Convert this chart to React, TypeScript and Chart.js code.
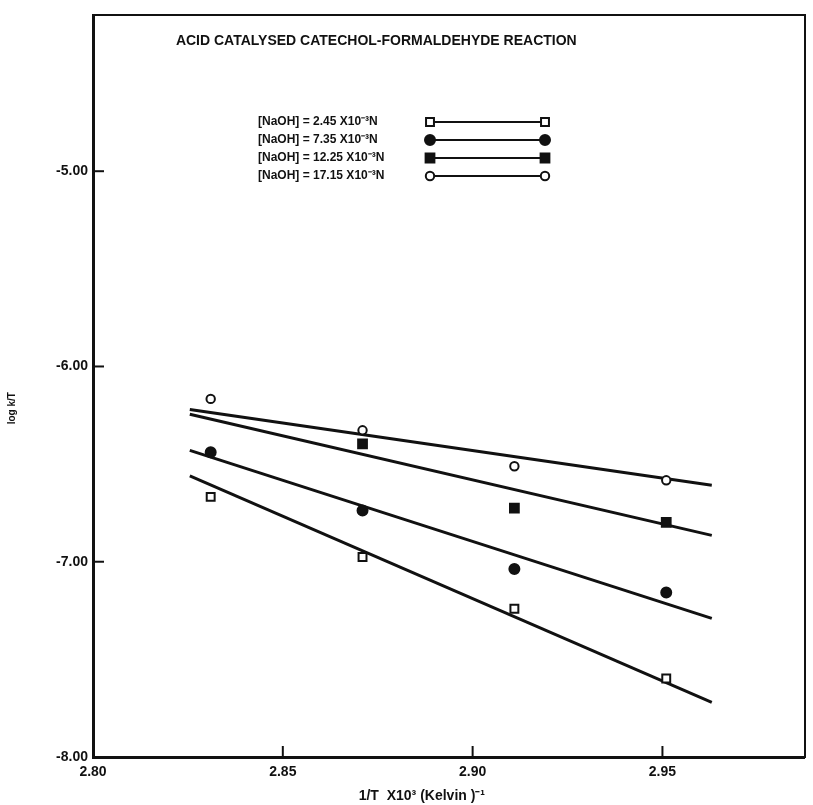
import React, { useEffect, useRef } from "react";
import { Chart, registerables } from "chart.js";

Chart.register(...registerables);

// 1/T x 10^3 positions of the measurements
const xValues = [2.831, 2.871, 2.911, 2.951];

// log k/T for each NaOH concentration
const naoh245 = [-6.668, -6.976, -7.241, -7.598];
const naoh735 = [-6.439, -6.737, -7.037, -7.157];
const naoh1225 = [null, -6.396, -6.725, -6.798];
const naoh1715 = [-6.166, -6.327, -6.511, -6.583];

// drawn straight-line fits (end points)
const fitX = [2.8255, 2.963];
const fit245 = [-6.56, -7.72];
const fit735 = [-6.43, -7.29];
const fit1225 = [-6.245, -6.865];
const fit1715 = [-6.22, -6.608];

const xTicks = [2.8, 2.85, 2.9, 2.95];
const yTicks = [-8, -7, -6, -5];

const legendLabels = [
  "[NaOH] = 2.45 X10\u207B\u00B3N",
  "[NaOH] = 7.35 X10\u207B\u00B3N",
  "[NaOH] = 12.25 X10\u207B\u00B3N",
  "[NaOH] = 17.15 X10\u207B\u00B3N",
];

const titleText = "ACID CATALYSED CATECHOL-FORMALDEHYDE REACTION";
const xTitle = "1/T  X10\u00B3 (Kelvin )\u207B\u00B9";
const yTitle = "log k/T";

const FONT = "'Liberation Sans', Arial, sans-serif";
const INK = "#111";

type MarkerStyle = { style: "rect" | "circle"; radius: number; fill: string };
const markers: MarkerStyle[] = [
  { style: "rect", radius: 5.6, fill: "#fff" },
  { style: "circle", radius: 5, fill: INK },
  { style: "rect", radius: 6.2, fill: INK },
  { style: "circle", radius: 4.2, fill: "#fff" },
];
const seriesValues = [naoh245, naoh735, naoh1225, naoh1715];
const fitValues = [fit245, fit735, fit1225, fit1715];

function drawMarker(ctx: CanvasRenderingContext2D, m: MarkerStyle, x: number, y: number) {
  ctx.save();
  ctx.beginPath();
  if (m.style === "rect") {
    const s = m.radius * Math.SQRT1_2;
    ctx.rect(x - s, y - s, 2 * s, 2 * s);
  } else {
    ctx.arc(x, y, m.radius, 0, Math.PI * 2);
  }
  ctx.fillStyle = m.fill;
  ctx.fill();
  ctx.lineWidth = 2;
  ctx.strokeStyle = INK;
  ctx.stroke();
  ctx.restore();
}

const decorPlugin = {
  id: "decor",
  afterDatasetsDraw(chart: any) {
    const { ctx, chartArea } = chart;
    const xs = chart.scales.x;
    const ys = chart.scales.y;
    ctx.save();
    ctx.strokeStyle = INK;
    ctx.lineWidth = 2;
    // inward tick marks
    xTicks.forEach((v) => {
      if (v === xTicks[0]) return;
      const px = xs.getPixelForValue(v);
      ctx.beginPath();
      ctx.moveTo(px, chartArea.bottom);
      ctx.lineTo(px, chartArea.bottom - 11);
      ctx.stroke();
    });
    yTicks.forEach((v) => {
      if (v === yTicks[0]) return;
      const py = ys.getPixelForValue(v);
      ctx.beginPath();
      ctx.moveTo(chartArea.left, py);
      ctx.lineTo(chartArea.left + 11, py);
      ctx.stroke();
    });

    const w = chartArea.right - chartArea.left;
    const h = chartArea.bottom - chartArea.top;
    // title
    ctx.fillStyle = INK;
    ctx.font = `bold 14px ${FONT}`;
    ctx.textAlign = "center";
    ctx.textBaseline = "middle";
    ctx.fillText(titleText, chartArea.left + w * 0.398, chartArea.top + 26);

    // legend
    ctx.font = `bold 12px ${FONT}`;
    ctx.textAlign = "left";
    legendLabels.forEach((label, i) => {
      const y = chartArea.top + 107 + i * 18;
      ctx.fillStyle = INK;
      ctx.fillText(label, chartArea.left + 165, y);
      const x1 = chartArea.left + 337;
      const x2 = chartArea.left + 452;
      ctx.beginPath();
      ctx.lineWidth = 2;
      ctx.moveTo(x1, y);
      ctx.lineTo(x2, y);
      ctx.stroke();
      drawMarker(ctx, markers[i], x1, y);
      drawMarker(ctx, markers[i], x2, y);
    });

    // x axis title
    ctx.font = `bold 14px ${FONT}`;
    ctx.textAlign = "center";
    ctx.fillStyle = INK;
    ctx.fillText(xTitle, chartArea.left + w * 0.462, chartArea.bottom + 39);

    // y axis title
    ctx.save();
    ctx.translate(12, chartArea.top + h * 0.53);
    ctx.rotate(-Math.PI / 2);
    ctx.font = `bold 10px ${FONT}`;
    ctx.textAlign = "center";
    ctx.fillText(yTitle, 0, 0);
    ctx.restore();

    ctx.restore();
  },
};

export default function App() {
  const canvasRef = useRef<HTMLCanvasElement | null>(null);

  useEffect(() => {
    const canvas = canvasRef.current;
    if (!canvas) return;

    const fitSets = fitValues.map((vals, i) => ({
      label: "fit " + legendLabels[i],
      data: fitX.map((x, j) => ({ x, y: vals[j] })),
      showLine: true,
      borderColor: INK,
      borderWidth: 3,
      pointRadius: 0,
      fill: false,
      order: 2,
    }));

    const pointSets = seriesValues.map((vals, i) => ({
      label: legendLabels[i],
      data: xValues
        .map((x, j) => ({ x, y: vals[j] }))
        .filter((p) => p.y !== null),
      showLine: false,
      pointStyle: markers[i].style,
      pointRadius: markers[i].radius,
      pointBackgroundColor: markers[i].fill,
      pointBorderColor: INK,
      pointBorderWidth: 2,
      order: 1,
    }));

    const tickFont = { family: FONT, size: 14, weight: "bold" as const };

    const chart = new Chart(canvas, {
      type: "scatter",
      data: { datasets: [...fitSets, ...pointSets] as any },
      plugins: [decorPlugin],
      options: {
        animation: false,
        responsive: false,
        maintainAspectRatio: false,
        layout: { padding: { top: 15, right: 7, left: 0, bottom: 0 } },
        plugins: {
          legend: { display: false },
          tooltip: { enabled: false },
          title: { display: false },
        },
        scales: {
          x: {
            type: "linear",
            position: "bottom",
            min: 2.8,
            max: 2.9875,
            afterBuildTicks: (s: any) => {
              s.ticks = xTicks.map((v) => ({ value: v }));
            },
            afterFit: (s: any) => {
              s.height = 48;
            },
            ticks: {
              color: INK,
              font: tickFont,
              padding: 7,
              maxRotation: 0,
              callback: (v: any) => Number(v).toFixed(2),
            },
            grid: { display: false, drawTicks: false },
            border: { display: true, color: INK, width: 3 },
          },
          y: {
            type: "linear",
            position: "left",
            min: -8,
            max: -4.2,
            afterBuildTicks: (s: any) => {
              s.ticks = yTicks.map((v) => ({ value: v }));
            },
            afterFit: (s: any) => {
              s.width = 93;
            },
            ticks: {
              color: INK,
              font: tickFont,
              padding: 5,
              callback: (v: any) => Number(v).toFixed(2),
            },
            grid: { display: false, drawTicks: false },
            border: { display: true, color: INK, width: 3 },
          },
          x2: {
            type: "linear",
            position: "top",
            min: 2.8,
            max: 2.9875,
            afterFit: (s: any) => {
              s.height = 0;
            },
            ticks: { display: false },
            grid: { display: false, drawTicks: false },
            border: { display: true, color: INK, width: 2 },
          },
          y2: {
            type: "linear",
            position: "right",
            min: -8,
            max: -4.2,
            afterFit: (s: any) => {
              s.width = 0;
            },
            ticks: { display: false },
            grid: { display: false, drawTicks: false },
            border: { display: true, color: INK, width: 2 },
          },
        },
      } as any,
    });

    return () => {
      chart.destroy();
    };
  }, []);

  return (
    <div
      style={{
        position: "absolute",
        left: 0,
        top: 0,
        width: 813,
        height: 805,
        background: "#fff",
      }}
    >
      <canvas ref={canvasRef} width={813} height={805} style={{ display: "block" }} />
    </div>
  );
}
